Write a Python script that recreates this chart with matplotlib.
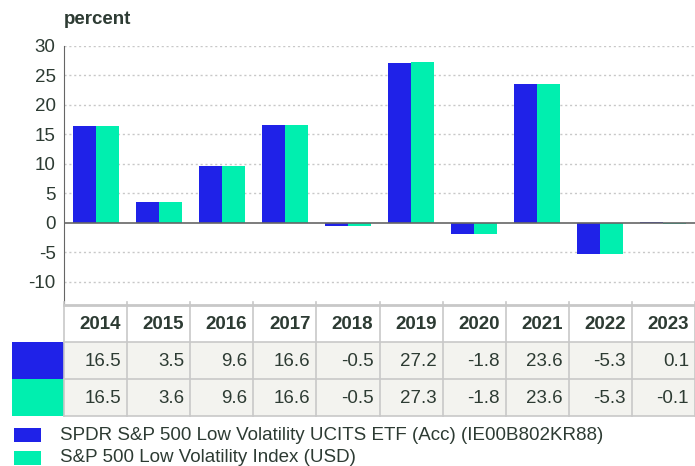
import matplotlib
matplotlib.use("Agg")
import matplotlib.pyplot as plt
from matplotlib.patches import Rectangle
from matplotlib.lines import Line2D
import numpy as np

plt.rcParams['font.family'] = ['Liberation Sans', 'DejaVu Sans']

anos = ['2014', '2015', '2016', '2017', '2018', '2019', '2020', '2021', '2022', '2023']
fondo = [16.5, 3.5, 9.6, 16.6, -0.5, 27.2, -1.8, 23.6, -5.3, 0.1]
indice = [16.5, 3.6, 9.6, 16.6, -0.5, 27.3, -1.8, 23.6, -5.3, -0.1]
nombres = ['SPDR S&P 500 Low Volatility UCITS ETF (Acc) (IE00B802KR88)',
           'S&P 500 Low Volatility Index (USD)']

azul = '#1f22e8'
verde = '#00efaf'
texto = '#2d3b33'
gris = '#c8c8c8'
fs = 13.5

W, H = 695, 466
fig = plt.figure(figsize=(W / 100, H / 100), dpi=100)

# zona del grafico en pixeles
izq, der, arriba, abajo = 64, 695, 46, 305
ax = fig.add_axes([izq / W, 1 - abajo / H, (der - izq) / W, (abajo - arriba) / H])

x = np.arange(len(anos))
ancho = 0.365
ax.bar(x - ancho / 2, fondo, width=ancho, color=azul, zorder=3)
ax.bar(x + ancho / 2, indice, width=ancho, color=verde, zorder=3)

ax.set_xlim(-0.5, len(anos) - 0.5)
ax.set_ylim(-13.9, 30)
ax.set_yticks(range(-10, 31, 5))
ax.set_yticklabels([str(v) for v in range(-10, 31, 5)], fontsize=fs, color=texto)
ax.set_xticks([])
for v in range(-10, 31, 5):
    if v != 0:
        ax.axhline(v, color=gris, lw=1, ls=(0, (1.5, 2)), zorder=1)
ax.axhline(0, color='#666666', lw=1.2, zorder=4)
for s in ['top', 'right', 'bottom']:
    ax.spines[s].set_visible(False)
ax.spines['left'].set_color('#666666')
ax.tick_params(axis='y', length=0, pad=6)

fig.text(izq / W, 1 - 20 / H, 'percent', fontsize=fs, fontweight='bold',
         color=texto, va='center', ha='left')

# tabla debajo del grafico
filas = [305, 342, 379, 416]
ancho_col = (der - izq) / len(anos)
def px(xx, yy):
    return xx / W, 1 - yy / H

for r in range(2):
    y0, y1 = filas[r + 1], filas[r + 2]
    fig.add_artist(Rectangle(px(izq, y1), (der - izq) / W, (y1 - y0) / H,
                             facecolor='#f3f3ef', edgecolor='none'))
    fig.add_artist(Rectangle(px(12, y1), (izq - 12) / W, (y1 - y0) / H,
                             facecolor=[azul, verde][r], edgecolor='none'))

for i, yy in enumerate(filas):
    fig.add_artist(Line2D([izq / W, 1], [1 - yy / H] * 2, color=gris,
                          lw=2 if i == 0 else 1.2))
for c in range(len(anos) + 1):
    xx = izq + c * ancho_col
    fig.add_artist(Line2D([xx / W] * 2, [1 - 302 / H, 1 - filas[-1] / H],
                          color=gris, lw=1.2))

for c, a in enumerate(anos):
    xr = izq + (c + 1) * ancho_col - 6
    fig.text(*px(xr, (filas[0] + filas[1]) / 2 + 1), a, fontsize=fs,
             fontweight='bold', color=texto, ha='right', va='center')
    fig.text(*px(xr, (filas[1] + filas[2]) / 2 + 1), f'{fondo[c]:.1f}',
             fontsize=fs, color=texto, ha='right', va='center')
    fig.text(*px(xr, (filas[2] + filas[3]) / 2 + 1), f'{indice[c]:.1f}',
             fontsize=fs, color=texto, ha='right', va='center')

# leyenda
for i, (n, col) in enumerate(zip(nombres, [azul, verde])):
    yc = 435 + i * 23
    fig.add_artist(Rectangle(px(14, yc + 7), 27 / W, 14 / H,
                             facecolor=col, edgecolor='none'))
    fig.text(*px(60, yc), n, fontsize=fs, color=texto, ha='left', va='center')

fig.savefig('out.png', dpi=100)
